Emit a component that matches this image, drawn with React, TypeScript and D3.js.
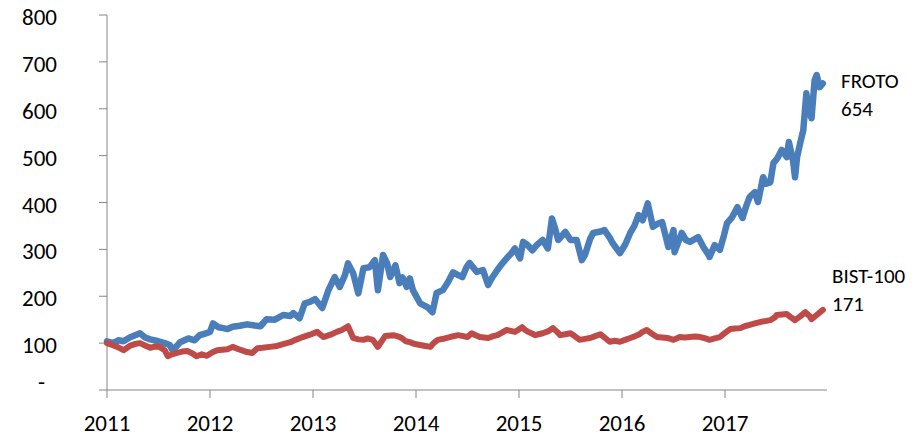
import React from 'react';
import * as d3 from 'd3';

// Rebased price index (Jan 2011 = 100)
const frotoYears = [
  2011.00, 2011.06, 2011.11, 2011.16, 2011.22, 2011.32, 2011.37, 2011.42, 2011.50, 2011.56,
  2011.61, 2011.63, 2011.67, 2011.71, 2011.79, 2011.85, 2011.90, 2011.95, 2012.00, 2012.03,
  2012.08, 2012.13, 2012.17, 2012.22, 2012.29, 2012.36, 2012.42, 2012.49, 2012.55, 2012.63,
  2012.71, 2012.78, 2012.81, 2012.87, 2012.92, 2012.97, 2013.02, 2013.09, 2013.15, 2013.21,
  2013.26, 2013.31, 2013.34, 2013.39, 2013.44, 2013.49, 2013.55, 2013.60, 2013.63, 2013.68,
  2013.72, 2013.75, 2013.80, 2013.84, 2013.87, 2013.91, 2013.94, 2013.97, 2014.04, 2014.11,
  2014.16, 2014.20, 2014.26, 2014.31, 2014.36, 2014.41, 2014.45, 2014.49, 2014.52, 2014.59,
  2014.65, 2014.70, 2014.74, 2014.79, 2014.83, 2014.88, 2014.92, 2014.96, 2015.01, 2015.04,
  2015.08, 2015.13, 2015.17, 2015.23, 2015.28, 2015.32, 2015.35, 2015.38, 2015.45, 2015.50,
  2015.56, 2015.61, 2015.64, 2015.69, 2015.72, 2015.79, 2015.83, 2015.88, 2015.91, 2015.98,
  2016.03, 2016.08, 2016.12, 2016.16, 2016.20, 2016.25, 2016.30, 2016.35, 2016.39, 2016.45,
  2016.50, 2016.51, 2016.58, 2016.62, 2016.66, 2016.74, 2016.79, 2016.83, 2016.85, 2016.90,
  2016.95, 2016.99, 2017.02, 2017.07, 2017.12, 2017.17, 2017.21, 2017.24, 2017.29, 2017.32,
  2017.37, 2017.40, 2017.44, 2017.47, 2017.51, 2017.55, 2017.60, 2017.62, 2017.66, 2017.68,
  2017.70, 2017.73, 2017.76, 2017.79, 2017.81, 2017.84, 2017.87, 2017.89, 2017.92, 2017.95,
];
const frotoValues = [
  104, 100, 106, 104, 112, 121, 112, 108, 104, 100,
  96, 87, 92, 102, 110, 106, 117, 120, 124, 142,
  134, 132, 130, 135, 137, 140, 138, 136, 151, 150,
  160, 158, 164, 153, 185, 188, 194, 175, 213, 241,
  220, 245, 270, 249, 206, 260, 262, 277, 213, 288,
  270, 241, 266, 228, 240, 220, 238, 213, 185, 177,
  166, 207, 213, 230, 251, 245, 241, 262, 271, 252,
  256, 224, 240, 256, 268, 281, 290, 302, 281, 316,
  310, 298, 309, 320, 302, 366, 345, 320, 337, 320,
  320, 277, 288, 322, 335, 338, 341, 325, 313, 292,
  310, 335, 350, 373, 362, 398, 348, 355, 358, 305,
  341, 294, 335, 320, 316, 326, 305, 292, 284, 309,
  299, 330, 356, 369, 390, 367, 395, 412, 422, 401,
  454, 440, 443, 484, 495, 512, 497, 529, 490, 454,
  497, 527, 554, 633, 597, 580, 661, 672, 646, 654,
];

const bistYears = [
  2011.00, 2011.05, 2011.10, 2011.16, 2011.22, 2011.27, 2011.32, 2011.37, 2011.42, 2011.47,
  2011.51, 2011.56, 2011.59, 2011.63, 2011.68, 2011.73, 2011.78, 2011.83, 2011.87, 2011.92,
  2011.97, 2012.02, 2012.07, 2012.12, 2012.17, 2012.22, 2012.29, 2012.36, 2012.41, 2012.46,
  2012.51, 2012.58, 2012.65, 2012.71, 2012.78, 2012.83, 2012.90, 2012.97, 2013.04, 2013.10,
  2013.17, 2013.23, 2013.28, 2013.34, 2013.39, 2013.44, 2013.49, 2013.53, 2013.58, 2013.63,
  2013.70, 2013.78, 2013.83, 2013.86, 2013.90, 2013.94, 2013.99, 2014.04, 2014.09, 2014.14,
  2014.17, 2014.21, 2014.28, 2014.33, 2014.41, 2014.46, 2014.50, 2014.54, 2014.58, 2014.62,
  2014.66, 2014.70, 2014.75, 2014.79, 2014.83, 2014.88, 2014.92, 2014.96, 2014.99, 2015.03,
  2015.06, 2015.09, 2015.13, 2015.16, 2015.19, 2015.23, 2015.28, 2015.33, 2015.37, 2015.40,
  2015.45, 2015.50, 2015.54, 2015.59, 2015.64, 2015.69, 2015.74, 2015.79, 2015.83, 2015.88,
  2015.93, 2015.98, 2016.03, 2016.08, 2016.13, 2016.17, 2016.20, 2016.24, 2016.29, 2016.34,
  2016.39, 2016.44, 2016.47, 2016.50, 2016.53, 2016.56, 2016.61, 2016.66, 2016.71, 2016.76,
  2016.81, 2016.85, 2016.90, 2016.95, 2017.00, 2017.05, 2017.10, 2017.15, 2017.19, 2017.24,
  2017.29, 2017.34, 2017.39, 2017.44, 2017.49, 2017.50, 2017.55, 2017.60, 2017.64, 2017.68,
  2017.73, 2017.78, 2017.82, 2017.84, 2017.89, 2017.95,
];
const bistValues = [
  100, 96, 92, 85, 94, 98, 100, 95, 90, 93,
  92, 85, 72, 76, 79, 82, 83, 78, 72, 76,
  73, 80, 85, 86, 87, 92, 86, 81, 79, 89,
  90, 92, 94, 98, 102, 107, 113, 118, 124, 113,
  118, 124, 128, 136, 111, 108, 107, 110, 107, 92,
  115, 117, 114, 111, 104, 102, 98, 96, 94, 92,
  100, 107, 110, 113, 117, 115, 113, 121, 117, 113,
  112, 111, 115, 117, 122, 128, 126, 124, 128, 134,
  128, 124, 120, 117, 119, 121, 125, 132, 124, 117,
  119, 121, 115, 107, 109, 111, 115, 119, 112, 103,
  105, 103, 107, 111, 115, 119, 124, 128, 120, 113,
  112, 111, 109, 107, 110, 113, 112, 113, 114, 113,
  110, 107, 110, 113, 122, 130, 131, 132, 136, 139,
  142, 145, 147, 149, 156, 160, 161, 162, 155, 149,
  157, 166, 158, 151, 160, 171,
];

const yTicks = [0, 100, 200, 300, 400, 500, 600, 700, 800];
const xTicks = [2011, 2012, 2013, 2014, 2015, 2016, 2017];
const seriesNames = ['FROTO', 'BIST-100'];
const lastValues = [654, 171];

const W = 919;
const H = 441;
const FONT = 'Carlito, Calibri, Lato, sans-serif';
const AXIS = '#868686';

export default function App() {
  const x = d3.scaleLinear().domain([2011, 2018]).range([107, 828]);
  const y = d3.scaleLinear().domain([0, 800]).range([390, 15]);

  const line = d3.line<[number, number]>()
    .x(d => x(d[0]))
    .y(d => y(d[1]));

  const froto = frotoYears.map((t, i) => [t, frotoValues[i]] as [number, number]);
  const bist = bistYears.map((t, i) => [t, bistValues[i]] as [number, number]);

  return (
    <svg width={W} height={H} style={{ position: 'absolute', left: 0, top: 0, background: '#fff' }}
      fontFamily={FONT}>
      {/* y axis */}
      <line x1={x(2011)} x2={x(2011)} y1={y(800)} y2={y(0)} stroke={AXIS} strokeWidth={1} />
      {yTicks.map(v => (
        <g key={v}>
          <line x1={x(2011) - 8} x2={x(2011)} y1={y(v)} y2={y(v)} stroke={AXIS} strokeWidth={1} />
          <text x={v === 0 ? 45 : 57} y={v === 0 ? y(v) : y(v) + 10} textAnchor="end" fontSize={23} fill="#000">
            {v === 0 ? '-' : v}
          </text>
        </g>
      ))}

      {/* x axis */}
      <line x1={x(2011)} x2={x(2018) - 1} y1={y(0)} y2={y(0)} stroke={AXIS} strokeWidth={1} />
      {xTicks.map(t => (
        <g key={t}>
          <line x1={x(t)} x2={x(t)} y1={y(0)} y2={y(0) + 8} stroke={AXIS} strokeWidth={1} />
          <text x={x(t)} y={431} textAnchor="middle" fontSize={23} fill="#000">{t}</text>
        </g>
      ))}

      {/* series */}
      <path d={line(froto) || ''} fill="none" stroke="#4A7EBB" strokeWidth={6.5}
        strokeLinejoin="round" strokeLinecap="round" />
      <path d={line(bist) || ''} fill="none" stroke="#BE4B48" strokeWidth={6}
        strokeLinejoin="round" strokeLinecap="round" />

      {/* end labels */}
      <text x={841} y={88} fontSize={21} fill="#000">{seriesNames[0]}</text>
      <text x={841} y={116} fontSize={21} fill="#000">{lastValues[0]}</text>
      <text x={832} y={283} fontSize={21} fill="#000">{seriesNames[1]}</text>
      <text x={832} y={311} fontSize={21} fill="#000">{lastValues[1]}</text>
    </svg>
  );
}
